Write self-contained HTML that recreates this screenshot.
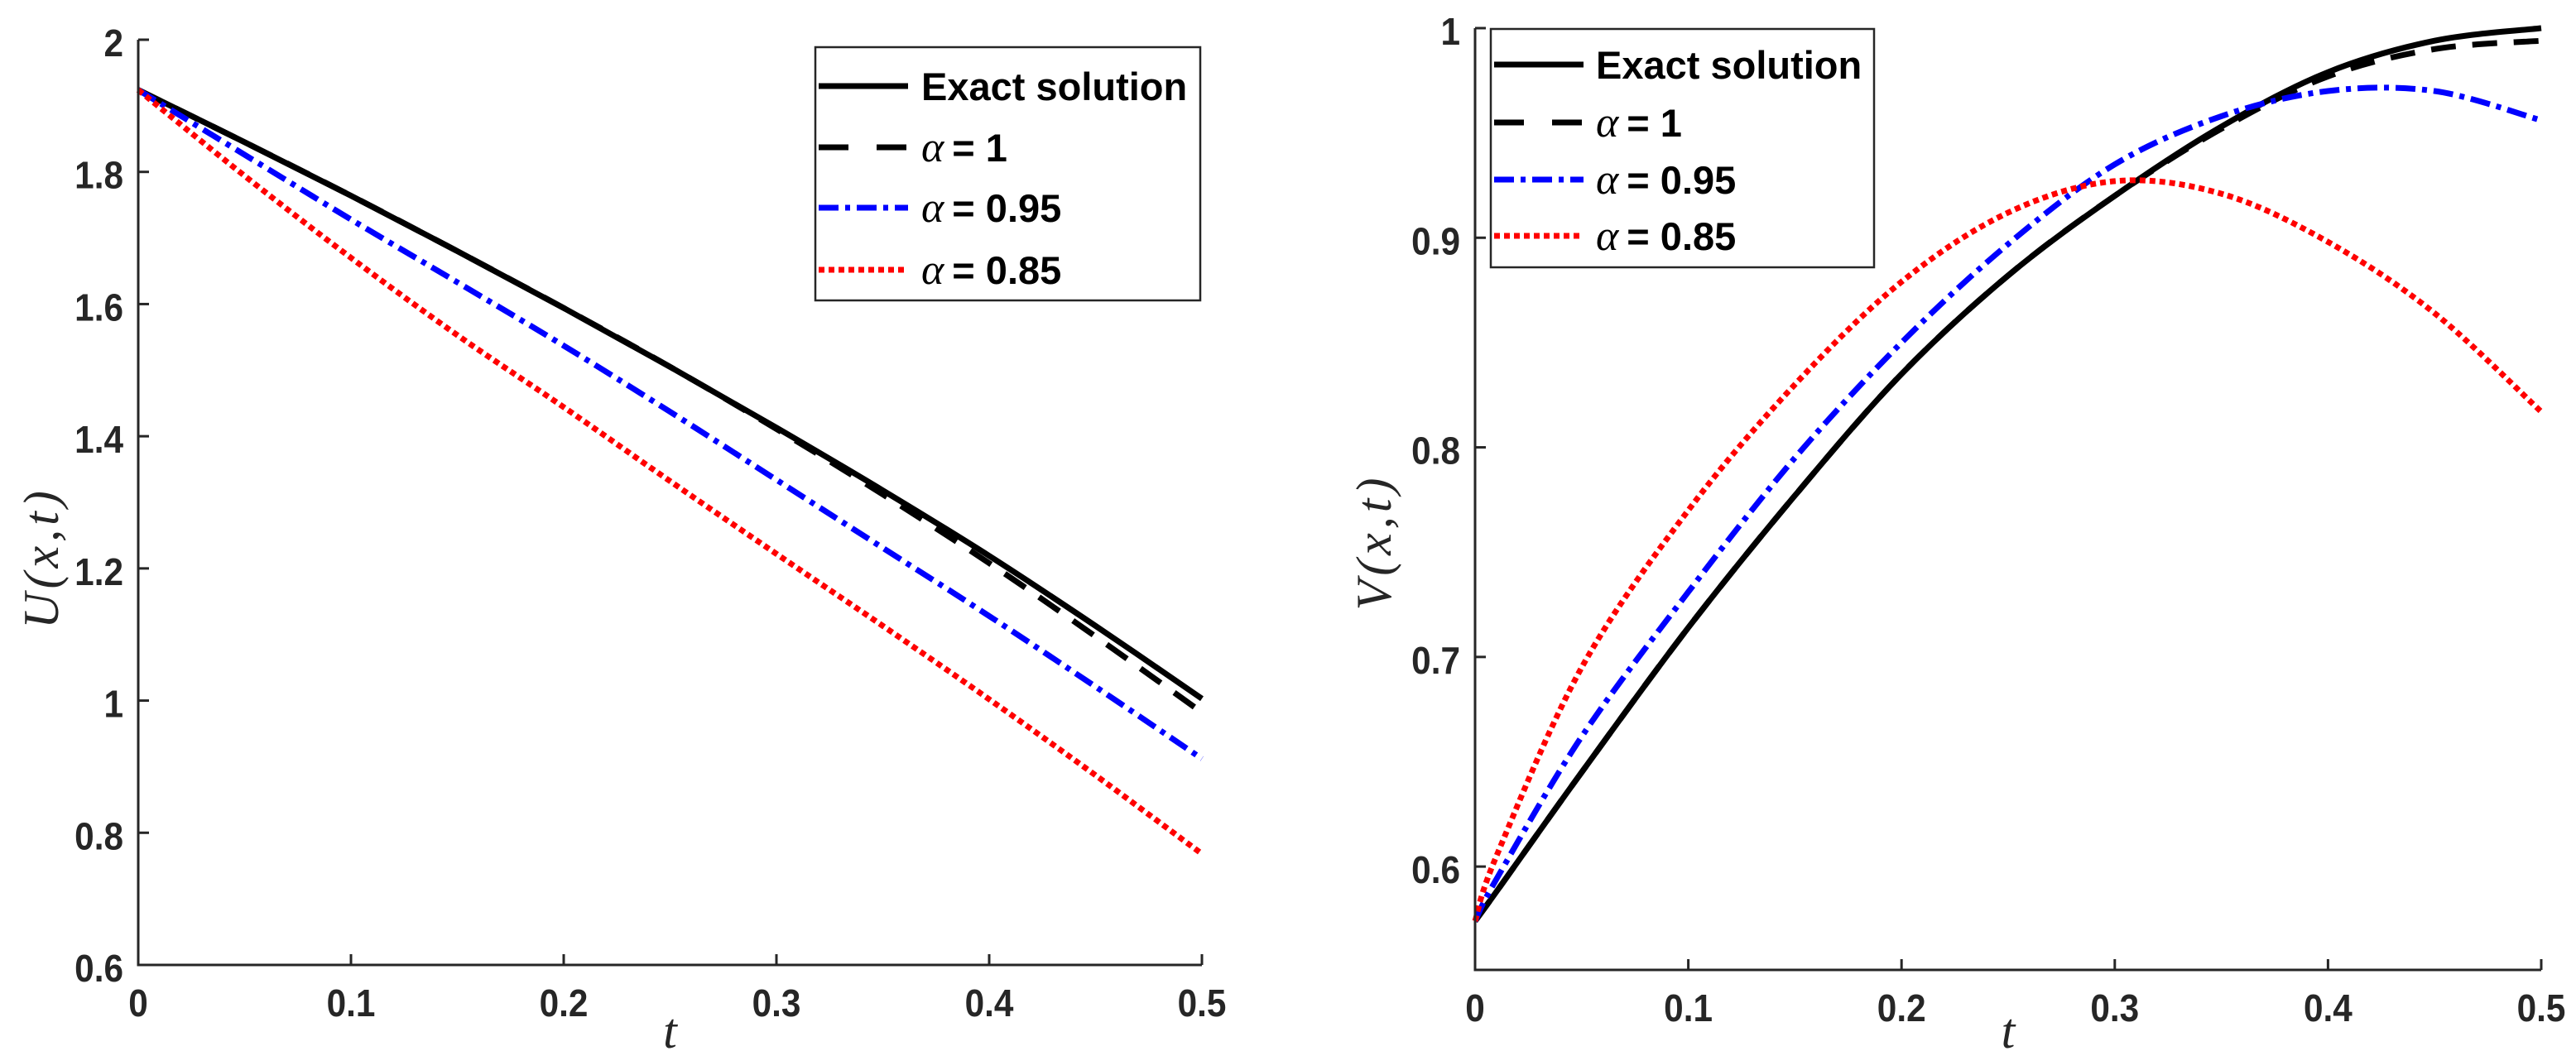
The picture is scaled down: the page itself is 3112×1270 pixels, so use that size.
<!DOCTYPE html>
<html><head><meta charset="utf-8"><style>
html,body{margin:0;padding:0;background:#fff}
svg{display:block}
.tk{font-family:"Liberation Sans",sans-serif;font-weight:bold;font-size:46px;fill:#262626}
.lg{font-family:"Liberation Sans",sans-serif;font-weight:bold;font-size:47px;fill:#000}
.al{font-family:"Liberation Serif",serif;font-style:italic;font-size:60px;fill:#262626;letter-spacing:5px}
.ax{font-family:"Liberation Serif",serif;font-style:italic;font-size:60px;fill:#262626}
</style></head><body>
<svg id="chart" width="3112" height="1270" viewBox="0 0 3112 1270" xmlns="http://www.w3.org/2000/svg"></svg>
<script>
const tU=[0,0.05,0.1,0.15,0.2,0.25,0.3,0.35,0.4,0.45,0.5];
const uExact=[1.924,1.845,1.764,1.680,1.594,1.505,1.413,1.318,1.219,1.113,1.003];
const uA1=[1.924,1.845,1.764,1.680,1.594,1.505,1.411,1.312,1.208,1.097,0.982];
const uA95=[1.924,1.826,1.728,1.633,1.537,1.437,1.334,1.231,1.128,1.021,0.912];
const uA85=[1.924,1.794,1.670,1.553,1.444,1.332,1.222,1.113,1.002,0.887,0.768];
const tV=[0,0.01,0.05,0.1,0.15,0.2,0.25,0.3,0.35,0.4,0.45,0.5];
const vExact=[0.574,0.588,0.645,0.714,0.777,0.835,0.882,0.920,0.953,0.979,0.994,1.0];
const vA1=[0.574,0.588,0.645,0.714,0.777,0.835,0.882,0.920,0.952,0.977,0.990,0.994];
const vA95=[0.574,0.594,0.662,0.731,0.795,0.850,0.897,0.935,0.958,0.970,0.970,0.956];
const vA85=[0.574,0.605,0.695,0.770,0.830,0.879,0.912,0.927,0.921,0.898,0.864,0.817];
const xTicks=[0,0.1,0.2,0.3,0.4,0.5];
const xTickLabels=["0","0.1","0.2","0.3","0.4","0.5"];
const uTicks=[0.6,0.8,1,1.2,1.4,1.6,1.8,2];
const uTickLabels=["0.6","0.8","1","1.2","1.4","1.6","1.8","2"];
const vTicks=[0.6,0.7,0.8,0.9,1];
const vTickLabels=["0.6","0.7","0.8","0.9","1"];
const legendLabels=["Exact solution","= 1","= 0.95","= 0.85"];

const NS="http://www.w3.org/2000/svg";
const svg=document.getElementById('chart');
function mk(tag,attrs,parent){const e=document.createElementNS(NS,tag);for(const k in attrs)e.setAttribute(k,attrs[k]);(parent||svg).appendChild(e);return e;}
const styles=[
 {stroke:"#000",dash:"",w:7},
 {stroke:"#000",dash:"30 20",w:7},
 {stroke:"#0000ff",dash:"24 8 6 8",w:7},
 {stroke:"#ff0000",dash:"7 5",w:7}
];
function pathD(pts){let d="M"+pts[0][0]+","+pts[0][1];
 for(let i=0;i<pts.length-1;i++){const p0=pts[Math.max(0,i-1)],p1=pts[i],p2=pts[i+1],p3=pts[Math.min(pts.length-1,i+2)];
  const c1=[p1[0]+(p2[0]-p0[0])/6,p1[1]+(p2[1]-p0[1])/6],c2=[p2[0]-(p3[0]-p1[0])/6,p2[1]-(p3[1]-p1[1])/6];
  d+=" C"+c1[0].toFixed(1)+","+c1[1].toFixed(1)+" "+c2[0].toFixed(1)+","+c2[1].toFixed(1)+" "+p2[0].toFixed(1)+","+p2[1].toFixed(1);}
 return d;}
function panel(cfg){
 const g=mk('g',{});
 
 
 const X=v=>cfg.x0+(v-cfg.xmin)/(cfg.xmax-cfg.xmin)*(cfg.x1-cfg.x0);
 const Y=v=>cfg.y0-(v-cfg.ymin)/(cfg.ymax-cfg.ymin)*(cfg.y0-cfg.y1);
 cfg.series.forEach((s,i)=>{
  const p=mk('path',{d:pathD(cfg.t.map((t,j)=>[X(t),Y(s[j])])),fill:"none",stroke:styles[i].stroke,"stroke-width":styles[i].w,"stroke-dasharray":styles[i].dash,"stroke-linejoin":"round"},g);
  
  
 });
 const ax=mk('path',{d:`M${cfg.x0},${cfg.y1} V${cfg.y0} H${cfg.x1}`,fill:"none",stroke:"#262626","stroke-width":3},g);
 
 
 xTicks.forEach((v,i)=>{
  mk('line',{x1:X(v),x2:X(v),y1:cfg.y0,y2:cfg.y0-13,stroke:"#262626","stroke-width":3},g);
  const t=mk('text',{class:"tk",x:0,y:0,"text-anchor":"middle",transform:`translate(${X(v)},${cfg.y0+62}) scale(0.92,1)`},g);
  t.textContent=xTickLabels[i];
  
  
 });
 cfg.yTicks.forEach((v,i)=>{
  mk('line',{x1:cfg.x0,x2:cfg.x0+13,y1:Y(v),y2:Y(v),stroke:"#262626","stroke-width":3},g);
  const t=mk('text',{class:"tk",x:0,y:0,"text-anchor":"end",transform:`translate(${cfg.x0-18},${Y(v)+20}) scale(0.92,1)`},g);
  t.textContent=cfg.yLabels[i];
  
  
 });
 const xl=mk('text',{class:"ax",x:(cfg.x0+cfg.x1)/2,y:1266,"text-anchor":"middle"},g);
 xl.textContent="t";
 
 
 const yl=mk('text',{class:"al","text-anchor":"middle",transform:`translate(${cfg.ylx},${cfg.yly}) rotate(-90)`},g);
 yl.textContent=cfg.ylabel;
 
 
 const L=cfg.leg;
 const lg=mk('g',{},g);
 
 
 mk('rect',{x:L.x,y:L.y,width:L.w,height:L.h,fill:"#fff",stroke:"#262626","stroke-width":2.5},lg);
 L.rows.forEach((ry,i)=>{
  mk('line',{x1:L.x+4,x2:L.x+112,y1:ry,y2:ry,stroke:styles[i].stroke,"stroke-width":styles[i].w,"stroke-dasharray":i==1?"36 34":styles[i].dash},lg);
  const t=mk('text',{class:"lg",x:L.x+L.tx,y:ry+17},lg);
  if(i==0){t.textContent=legendLabels[0];}
  else{const a=mk('tspan',{style:"font-family:'Liberation Serif',serif;font-style:italic;font-weight:normal;font-size:52px"},t);a.textContent="α";
   const b=mk('tspan',{dx:"10"},t);b.textContent=legendLabels[i];}
  
  
 });
}
panel({name:'u-panel',t:tU,x0:167,x1:1452,xmin:0,xmax:0.5,y0:1166,y1:48,ymin:0.6,ymax:2,
 series:[uExact,uA1,uA95,uA85],yTicks:uTicks,yLabels:uTickLabels,ylabel:"U(x,t)",ylx:70,yly:674,
 leg:{x:985,y:57,w:465,h:306,tx:128,rows:[104,178,251,326]}});
panel({name:'v-panel',t:tV,x0:1782,x1:3070,xmin:0,xmax:0.5,y0:1172,y1:34,ymin:0.5507,ymax:1,
 series:[vExact,vA1,vA95,vA85],yTicks:vTicks,yLabels:vTickLabels,ylabel:"V(x,t)",ylx:1680,yly:655,
 leg:{x:1801,y:35,w:463,h:288,tx:127,rows:[78,148,217,285]}});
</script>
</body></html>
